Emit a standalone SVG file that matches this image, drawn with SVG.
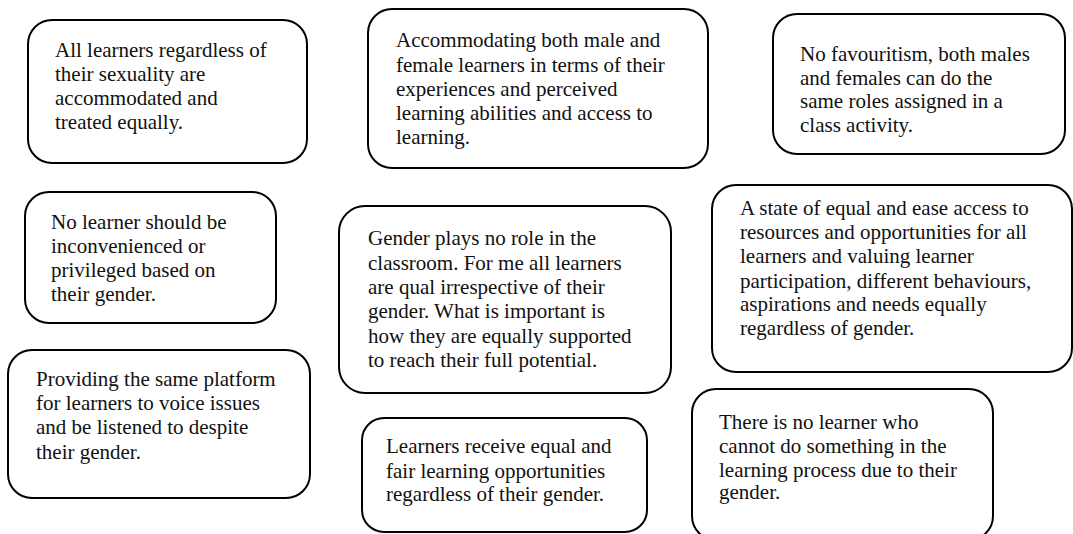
<svg xmlns="http://www.w3.org/2000/svg" width="1073" height="534" viewBox="0 0 1073 534">
<style>
.box{fill:#fff;stroke:#000;stroke-width:2}
text{font-family:"Liberation Serif","Times New Roman",serif;font-size:21px;fill:#111}
</style>
<rect width="1073" height="534" fill="#fff"/>
<g id="n1"><rect class="box" x="28" y="20" width="279" height="143" rx="24"/>
<text x="55" y="57">All learners regardless of</text><text x="55" y="81">their sexuality are</text><text x="55" y="105">accommodated and</text><text x="55" y="129">treated equally.</text></g>
<g id="n2"><rect class="box" x="368" y="9" width="340" height="159" rx="24"/>
<text x="396" y="47">Accommodating both male and</text><text x="396" y="72">female learners in terms of their</text><text x="396" y="96">experiences and perceived</text><text x="396" y="120">learning abilities and access to</text><text x="396" y="144">learning.</text></g>
<g id="n3"><rect class="box" x="773" y="14" width="292" height="140" rx="24"/>
<text x="800" y="61">No favouritism, both males</text><text x="800" y="85">and females can do the</text><text x="800" y="108">same roles assigned in a</text><text x="800" y="132">class activity.</text></g>
<g id="n4"><rect class="box" x="25" y="192" width="251" height="131" rx="24"/>
<text x="51" y="229">No learner should be</text><text x="51" y="253">inconvenienced or</text><text x="51" y="277">privileged based on</text><text x="51" y="301">their gender.</text></g>
<g id="n5"><rect class="box" x="339" y="206" width="332" height="187" rx="26"/>
<text x="368" y="245">Gender plays no role in the</text><text x="368" y="270">classroom. For me all learners</text><text x="368" y="294">are qual irrespective of their</text><text x="368" y="318">gender. What is important is</text><text x="368" y="343">how they are equally supported</text><text x="368" y="367">to reach their full potential.</text></g>
<g id="n6"><rect class="box" x="712" y="185" width="360" height="187" rx="24"/>
<text x="740" y="215">A state of equal and ease access to</text><text x="740" y="239">resources and opportunities for all</text><text x="740" y="263">learners and valuing learner</text><text x="740" y="288">participation, different behaviours,</text><text x="740" y="311">aspirations and needs equally</text><text x="740" y="335">regardless of gender.</text></g>
<g id="n7"><rect class="box" x="8" y="350" width="302" height="148" rx="24"/>
<text x="36" y="386">Providing the same platform</text><text x="36" y="410">for learners to voice issues</text><text x="36" y="434">and be listened to despite</text><text x="36" y="459">their gender.</text></g>
<g id="n8"><rect class="box" x="362" y="418" width="285" height="114" rx="22"/>
<text x="386" y="453">Learners receive equal and</text><text x="386" y="478">fair learning opportunities</text><text x="386" y="501">regardless of their gender.</text></g>
<g id="n9"><rect class="box" x="692" y="389" width="301" height="151" rx="24"/>
<text x="719" y="429">There is no learner who</text><text x="719" y="453">cannot do something in the</text><text x="719" y="477">learning process due to their</text><text x="719" y="499">gender.</text></g>
<g id="connectors"></g>
</svg>
